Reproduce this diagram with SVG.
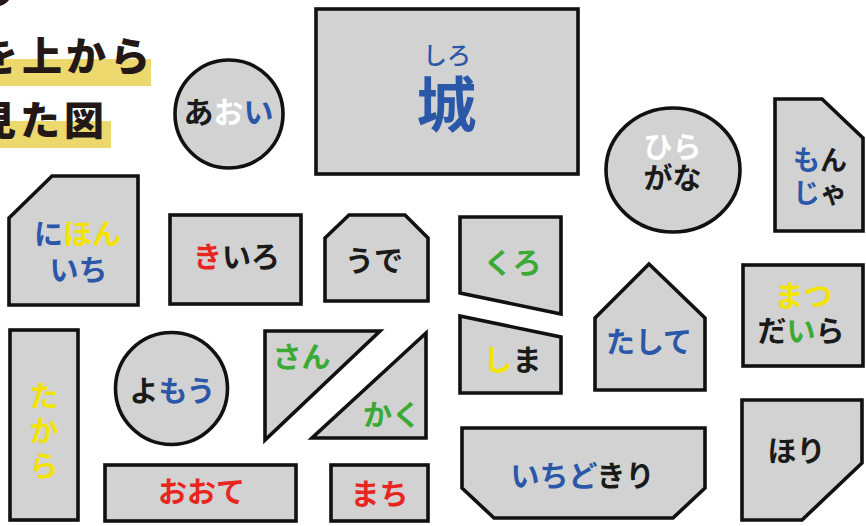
<svg xmlns="http://www.w3.org/2000/svg" width="866" height="526" viewBox="0 0 866 526">
<style>
.s{fill:#d2d2d2;stroke:#111;stroke-width:3.6;stroke-linejoin:miter}
.t{font-family:"Noto Sans CJK JP","Noto Sans",sans-serif;font-size:29px;font-weight:700;text-anchor:middle;fill:#1a1a1a}
.k{fill:#1a1a1a}.b{fill:#2b57a8}.r{fill:#e8261f}.g{fill:#3aaa35}.y{fill:#f2e400}.w{fill:#ffffff}
.band{fill:#ecd86c}
.title{font-family:"Noto Sans CJK JP",sans-serif;font-size:40px;font-weight:900;fill:#231815;letter-spacing:4px}
</style>
<rect width="866" height="526" fill="#ffffff"/>
<g id="title">
<path d="M0,0 L9,0 Q6,4 0,6 Z" fill="#231815"/>
<rect class="band" x="0" y="59" width="151" height="27"/>
<rect class="band" x="0" y="121" width="111" height="27"/>
<text class="title" x="-22" y="71">を上から</text>
<text class="title" x="-24" y="135">見た図</text>
</g>
<g id="shiro">
<rect class="s" x="316" y="9" width="262" height="165" stroke-width="4"/>
<text class="t b" x="447" y="64" style="font-size:24px;font-weight:500">しろ</text>
<text class="t b" x="446.5" y="127" style="font-size:60px;font-weight:700">城</text>
</g>
<g id="aoi">
<circle class="s" cx="229" cy="114" r="54"/>
<text class="t" x="228.5" y="123" style="font-size:30px"><tspan class="k">あ</tspan><tspan class="w">お</tspan><tspan class="b">い</tspan></text>
</g>
<g id="hiragana">
<ellipse class="s" cx="673" cy="170" rx="67" ry="62"/>
<text class="t w" x="672.5" y="158">ひら</text>
<text class="t k" x="672.5" y="189">がな</text>
</g>
<g id="monja">
<polygon class="s" points="775,99 822,99 863,138 863,231 775,231"/>
<text class="t" x="820" y="170" style="font-size:27px"><tspan class="b">も</tspan><tspan class="k">ん</tspan></text>
<text class="t" x="820" y="203" style="font-size:27px"><tspan class="b">じ</tspan><tspan class="k">ゃ</tspan></text>
</g>
<g id="nihonichi">
<polygon class="s" points="9,218 52,176 138,176 138,305 9,305"/>
<text class="t" x="77.5" y="244.5"><tspan class="b">に</tspan><tspan class="y">ほん</tspan></text>
<text class="t b" x="78.5" y="280.5">いち</text>
</g>
<g id="kiiro">
<rect class="s" x="170" y="215" width="131" height="89"/>
<text class="t" x="236.5" y="268"><tspan class="r">き</tspan><tspan class="k">いろ</tspan></text>
</g>
<g id="ude">
<polygon class="s" points="325,238 349,215 405,215 428,238 428,301 325,301"/>
<text class="t k" x="374" y="271.5">うで</text>
</g>
<g id="kuro">
<polygon class="s" points="460,217 561,217 561,314 460,293"/>
<text class="t g" x="512.5" y="273.5">くろ</text>
</g>
<g id="shima">
<polygon class="s" points="460,316 561,337 561,393 460,393"/>
<text class="t" x="512.5" y="371"><tspan class="y">し</tspan><tspan class="k">ま</tspan></text>
</g>
<g id="tashite">
<polygon class="s" points="649,264 705,318 705,390 595,390 595,318"/>
<text class="t b" x="649" y="353">たして</text>
</g>
<g id="matsudaira">
<rect class="s" x="743" y="265" width="120" height="101"/>
<text class="t y" x="803.5" y="306.5">まつ</text>
<text class="t" x="801" y="341.5"><tspan class="k">だ</tspan><tspan class="g">い</tspan><tspan class="k">ら</tspan></text>
</g>
<g id="hori">
<polygon class="s" points="742,400 862,400 862,463 802,520 742,520"/>
<text class="t k" x="796.5" y="462">ほり</text>
</g>
<g id="ichidokiri">
<polygon class="s" points="462,428 705,428 705,488 673,518 494,518 462,488"/>
<text class="t" x="582.5" y="487"><tspan class="b">いちど</tspan><tspan class="k">きり</tspan></text>
</g>
<g id="takara">
<rect class="s" x="10" y="330" width="68" height="190"/>
<text class="t y" x="44" y="406.5">た</text>
<text class="t y" x="44" y="441.5">か</text>
<text class="t y" x="44" y="476.5">ら</text>
</g>
<g id="yomou">
<circle class="s" cx="171.5" cy="388.5" r="56"/>
<text class="t" x="172.5" y="402"><tspan class="k">よ</tspan><tspan class="b">もう</tspan></text>
</g>
<g id="san">
<polygon class="s" points="265,331 380,331 265,440"/>
<text class="t g" x="301.5" y="368">さん</text>
</g>
<g id="kaku">
<polygon class="s" points="426,333 426,438 312,438"/>
<text class="t g" x="392" y="425.5">かく</text>
</g>
<g id="oote">
<rect class="s" x="105" y="465" width="191" height="56"/>
<text class="t r" x="201.5" y="503">おおて</text>
</g>
<g id="machi">
<rect class="s" x="331" y="465" width="97" height="56"/>
<text class="t r" x="379.5" y="504.5">まち</text>
</g>
<g id="connectors"/>
</svg>
